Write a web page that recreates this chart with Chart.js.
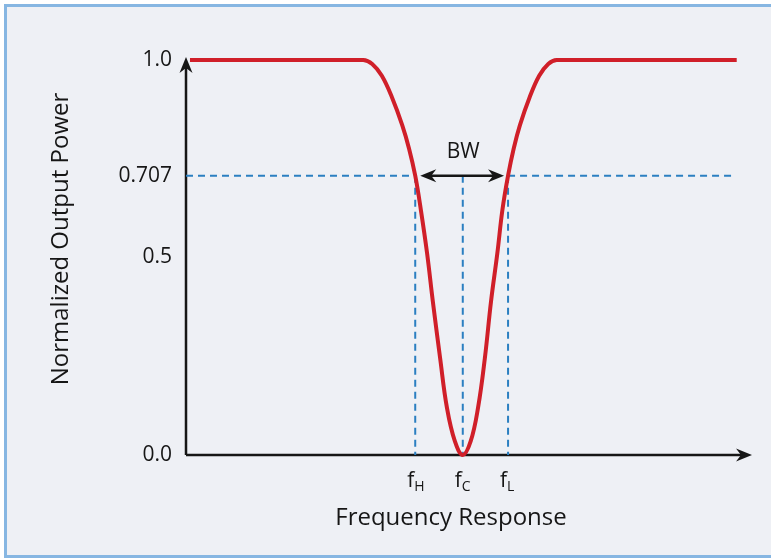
<!DOCTYPE html>
<html>
<head>
<meta charset="utf-8">
<script src="https://cdn.jsdelivr.net/npm/chart.js@4.4.1/dist/chart.umd.min.js"></script>
<style>
  html, body { margin: 0; padding: 0; background: #fff; }
  #frame { position: absolute; left: 4px; top: 4px; width: 800px; height: 548px; border: 3px solid #86b6e2; background: #eef0f5; }
  #wrap { position: absolute; left: 0; top: 0; width: 771px; height: 558px; }
</style>
</head>
<body>
<div id="frame"></div>
<div id="wrap"><canvas id="myChart" width="771" height="558"></canvas></div>
<script>
// response curve (frequency in arbitrary units, 0..100)
const freq = [0.7, 31.3, 32.9, 34.6, 36.4, 38.2, 39.4, 40.5, 41.5, 42.6, 43.6, 44.9, 46.1, 47.5, 48.9,
              50.3, 51.6, 52.8, 53.9, 55.0, 55.9, 56.9, 57.9, 59.0, 60.7, 62.4, 64.0, 65.5, 97.3];
const power = [1.0, 1.0, 0.99, 0.96, 0.905, 0.835, 0.776, 0.707, 0.62, 0.51, 0.39, 0.245, 0.12, 0.035, 0.0,
               0.035, 0.12, 0.245, 0.39, 0.51, 0.62, 0.707, 0.776, 0.835, 0.905, 0.96, 0.99, 1.0, 1.0];

const yTicks = [0.0, 0.5, 0.707, 1.0];
const yTickLabels = ['0.0', '0.5', '0.707', '1.0'];

const halfPower = 0.707;
const fH = 40.5;
const fC = 48.9;
const fL = 56.9;
const xLabels = [['f', 'H', fH], ['f', 'C', fC], ['f', 'L', fL]];
const xEnd = 97;

const FONT = '"Open Sans", "DejaVu Sans", sans-serif';
const RED = '#d01f29';
const BLUE = '#2b7fc1';
const INK = '#161616';

const curve = freq.map((f, i) => ({ x: f, y: power[i] }));

const dashed = (pts) => ({
  data: pts,
  borderColor: BLUE,
  borderWidth: 2,
  borderDash: [7, 5],
  pointRadius: 0,
  fill: false,
  clip: false,
});

function arrowHead(ctx, x, y, angle) {
  ctx.save();
  ctx.translate(x, y);
  ctx.rotate(angle);
  ctx.beginPath();
  ctx.moveTo(0, 0);
  ctx.lineTo(-16, -6.5);
  ctx.lineTo(-11, 0);
  ctx.lineTo(-16, 6.5);
  ctx.closePath();
  ctx.fill();
  ctx.restore();
}

const axesPlugin = {
  id: 'axesPlugin',
  beforeDatasetsDraw(chart) {
    const { ctx, chartArea: a } = chart;
    ctx.save();
    ctx.strokeStyle = INK;
    ctx.fillStyle = INK;
    ctx.lineWidth = 2.5;
    ctx.beginPath();
    ctx.moveTo(a.left, a.bottom);
    ctx.lineTo(a.left, a.top + 4);
    ctx.moveTo(a.left, a.bottom);
    ctx.lineTo(a.right - 6, a.bottom);
    ctx.stroke();
    arrowHead(ctx, a.left, a.top - 3, -Math.PI / 2);
    arrowHead(ctx, a.right, a.bottom, 0);
    ctx.restore();
  },
  afterDraw(chart) {
    const { ctx } = chart;
    const xs = chart.scales.x;
    const ys = chart.scales.y;
    ctx.save();
    ctx.fillStyle = INK;
    ctx.strokeStyle = INK;

    // BW arrow
    const yb = ys.getPixelForValue(halfPower);
    const x1 = xs.getPixelForValue(fH) + 5;
    const x2 = xs.getPixelForValue(fL) - 4;
    ctx.lineWidth = 2.5;
    ctx.beginPath();
    ctx.moveTo(x1 + 6, yb);
    ctx.lineTo(x2 - 6, yb);
    ctx.stroke();
    arrowHead(ctx, x1, yb, Math.PI);
    arrowHead(ctx, x2, yb, 0);
    ctx.font = '21px ' + FONT;
    ctx.textAlign = 'center';
    ctx.textBaseline = 'middle';
    ctx.fillText('BW', (x1 + x2) / 2 + 1, yb - 24);

    // f labels with subscripts
    ctx.textBaseline = 'alphabetic';
    xLabels.forEach(([main, sub, v]) => {
      const px = xs.getPixelForValue(v);
      ctx.font = '21px ' + FONT;
      ctx.textAlign = 'right';
      ctx.fillText(main, px - 1, 487);
      ctx.font = '14px ' + FONT;
      ctx.textAlign = 'left';
      ctx.fillText(sub, px - 1, 491);
    });

    // axis titles
    ctx.font = '24px ' + FONT;
    ctx.textAlign = 'center';
    ctx.textBaseline = 'middle';
    ctx.fillText('Frequency Response', 451, 518);
    ctx.translate(61, 239);
    ctx.rotate(-Math.PI / 2);
    ctx.fillText('Normalized Output Power', 0, 0);
    ctx.restore();
  }
};

const config = {
  type: 'line',
  data: {
    datasets: [
      {
        data: curve,
        borderColor: RED,
        borderWidth: 4,
        pointRadius: 0,
        tension: 0.4,
        fill: false,
        clip: false,
      },
      dashed([{ x: 0, y: halfPower }, { x: fH, y: halfPower }]),
      dashed([{ x: fL, y: halfPower }, { x: xEnd, y: halfPower }]),
      dashed([{ x: fH, y: halfPower }, { x: fH, y: 0 }]),
      dashed([{ x: fC, y: halfPower }, { x: fC, y: 0 }]),
      dashed([{ x: fL, y: halfPower }, { x: fL, y: 0 }]),
    ]
  },
  options: {
    responsive: false,
    animation: false,
    layout: { padding: { top: 60, right: 19, left: 0, bottom: 0 } },
    plugins: { legend: { display: false }, tooltip: { enabled: false } },
    scales: {
      x: {
        type: 'linear',
        min: 0,
        max: 100,
        grid: { display: false, drawTicks: false },
        border: { display: false },
        ticks: { display: false },
        afterFit(scale) { scale.height = 103; },
      },
      y: {
        min: 0,
        max: 1,
        grid: { display: false, drawTicks: false },
        border: { display: false },
        afterBuildTicks(scale) { scale.ticks = yTicks.map(v => ({ value: v })); },
        ticks: {
          padding: 14,
          color: INK,
          font: { family: FONT, size: 21 },
          callback: (v) => yTickLabels[yTicks.indexOf(v)],
        },
        afterFit(scale) { scale.width = 186; },
      }
    }
  },
  plugins: [axesPlugin],
};

const myChart = new Chart(document.getElementById('myChart'), config);
</script>
</body>
</html>
